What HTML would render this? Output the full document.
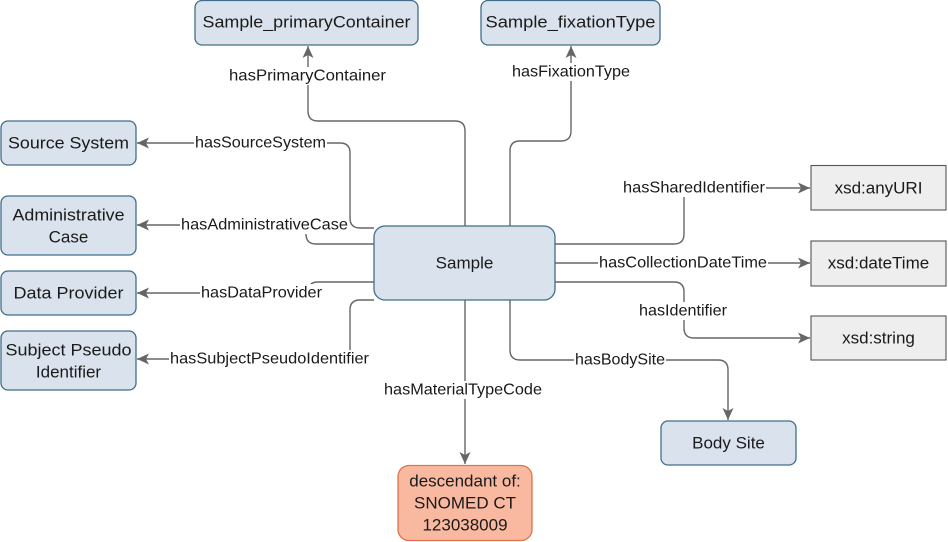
<!DOCTYPE html>
<html><head><meta charset="utf-8"><style>
body{margin:0;background:#fff;}
svg{display:block;font-family:"Liberation Sans",Arial,sans-serif;}
.n{fill:#dae3ed;stroke:#3f6f8a;stroke-width:1.3}
.g{fill:#eeeeee;stroke:#555;stroke-width:1.1}
.e{fill:none;stroke:#666;stroke-width:1.4}
.t{font-size:17px;fill:#1a1a1a;text-anchor:middle;dominant-baseline:central}
.l{font-size:16px;fill:#1a1a1a;text-anchor:middle;dominant-baseline:central}
.lb{fill:#fff}
</style></head><body>
<svg width="948" height="542" viewBox="0 0 948 542">
<defs><marker id="a" markerWidth="14" markerHeight="12" refX="12" refY="6" orient="auto" markerUnits="userSpaceOnUse"><path d="M0,0.5 L12,6 L0,11.5 L3,6 Z" fill="#666"/></marker></defs>
<path class="e" marker-end="url(#a)" d="M465,226 V131 Q465,121 455,121 H318 Q308,121 308,111 V46"/>
<path class="e" marker-end="url(#a)" d="M510,226 V151 Q510,141 520,141 H561 Q571,141 571,131 V46"/>
<path class="e" marker-end="url(#a)" d="M374,228 H360 Q350,228 350,218 V153 Q350,143 340,143 H137"/>
<path class="e" marker-end="url(#a)" d="M374,244 H316 Q306,244 306,234 V225 H137"/>
<path class="e" marker-end="url(#a)" d="M374,282 H318 Q308,282 308,292 V293 H137"/>
<path class="e" marker-end="url(#a)" d="M374,300 H360 Q350,300 350,310 V359 H137"/>
<path class="e" marker-end="url(#a)" d="M465,300 V464"/>
<path class="e" marker-end="url(#a)" d="M510,300 V350 Q510,360 520,360 H718 Q728,360 728,370 V420"/>
<path class="e" marker-end="url(#a)" d="M555,244 H674 Q684,244 684,234 V188 H810"/>
<path class="e" marker-end="url(#a)" d="M555,263 H810"/>
<path class="e" marker-end="url(#a)" d="M555,282 H674 Q684,282 684,292 V328 Q684,338 694,338 H810"/>
<rect class="lb" x="228" y="67" width="159" height="18"/><text class="l" x="307.5" y="76" textLength="157" lengthAdjust="spacingAndGlyphs">hasPrimaryContainer</text>
<rect class="lb" x="511" y="63" width="120" height="18"/><text class="l" x="571" y="72" textLength="118" lengthAdjust="spacingAndGlyphs">hasFixationType</text>
<rect class="lb" x="194" y="134" width="133" height="18"/><text class="l" x="260.5" y="143" textLength="131" lengthAdjust="spacingAndGlyphs">hasSourceSystem</text>
<rect class="lb" x="180" y="216" width="169" height="18"/><text class="l" x="264.5" y="225" textLength="167" lengthAdjust="spacingAndGlyphs">hasAdministrativeCase</text>
<rect class="lb" x="200" y="284" width="123" height="18"/><text class="l" x="261.5" y="293" textLength="121" lengthAdjust="spacingAndGlyphs">hasDataProvider</text>
<rect class="lb" x="169" y="350" width="201" height="18"/><text class="l" x="269.5" y="359" textLength="199" lengthAdjust="spacingAndGlyphs">hasSubjectPseudoIdentifier</text>
<rect class="lb" x="383" y="381" width="160" height="18"/><text class="l" x="463" y="390" textLength="158" lengthAdjust="spacingAndGlyphs">hasMaterialTypeCode</text>
<rect class="lb" x="574" y="351" width="92" height="18"/><text class="l" x="620" y="360" textLength="90" lengthAdjust="spacingAndGlyphs">hasBodySite</text>
<rect class="lb" x="622" y="179" width="144" height="18"/><text class="l" x="694" y="188" textLength="142" lengthAdjust="spacingAndGlyphs">hasSharedIdentifier</text>
<rect class="lb" x="598" y="254" width="170" height="18"/><text class="l" x="683" y="263" textLength="168" lengthAdjust="spacingAndGlyphs">hasCollectionDateTime</text>
<rect class="lb" x="638" y="302" width="90" height="18"/><text class="l" x="683" y="311" textLength="88" lengthAdjust="spacingAndGlyphs">hasIdentifier</text>
<rect class="n" x="195" y="0.5" width="223" height="44.5" rx="7"/><text class="t" x="306.5" y="22" textLength="208" lengthAdjust="spacingAndGlyphs">Sample_primaryContainer</text>
<rect class="n" x="481" y="0.5" width="179" height="44.5" rx="7"/><text class="t" x="570.5" y="22" textLength="170" lengthAdjust="spacingAndGlyphs">Sample_fixationType</text>
<rect class="n" x="1" y="121" width="135" height="44" rx="7"/><text class="t" x="68.5" y="143" textLength="121" lengthAdjust="spacingAndGlyphs">Source System</text>
<rect class="n" x="1" y="196" width="135" height="59" rx="7"/><text class="t" x="68.5" y="215" textLength="112" lengthAdjust="spacingAndGlyphs">Administrative</text><text class="t" x="68.5" y="237">Case</text>
<rect class="n" x="1" y="271" width="135" height="44" rx="7"/><text class="t" x="68.5" y="293" textLength="110" lengthAdjust="spacingAndGlyphs">Data Provider</text>
<rect class="n" x="1" y="331" width="135" height="59" rx="7"/><text class="t" x="68.5" y="350" textLength="126" lengthAdjust="spacingAndGlyphs">Subject Pseudo</text><text class="t" x="68.5" y="372">Identifier</text>
<rect class="n" x="374" y="226" width="181" height="74" rx="11"/><text class="t" x="464.5" y="263">Sample</text>
<rect class="g" x="811" y="165.5" width="135" height="44.5"/><text class="t" x="878.5" y="188">xsd:anyURI</text>
<rect class="g" x="811" y="241" width="135" height="45"/><text class="t" x="878.5" y="263">xsd:dateTime</text>
<rect class="g" x="811" y="316" width="135" height="44"/><text class="t" x="878.5" y="338">xsd:string</text>
<rect class="n" x="661" y="421" width="135" height="44" rx="7"/><text class="t" x="728.5" y="443">Body Site</text>
<rect x="398" y="465.5" width="134" height="75" rx="11" fill="#f8b9a0" stroke="#e0714a" stroke-width="1.3"/>
<text class="t" x="465" y="481">descendant of:</text><text class="t" x="465" y="503">SNOMED CT</text><text class="t" x="465" y="525">123038009</text>
</svg>
</body></html>
